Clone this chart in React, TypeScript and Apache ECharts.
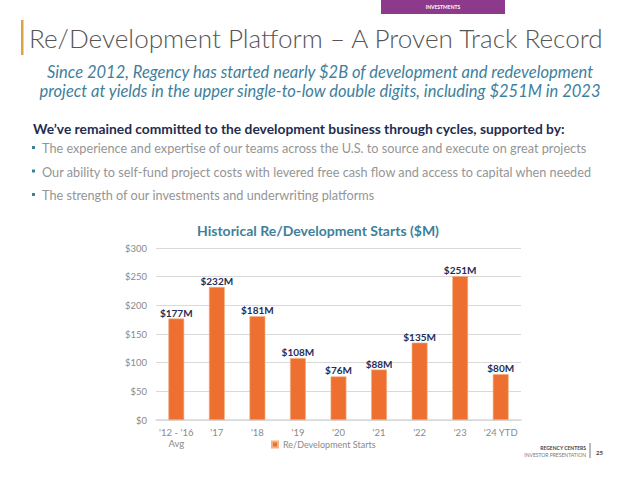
import React, { useEffect, useRef } from "react";
import * as echarts from "echarts";

const categories = ["'12 - '16\nAvg", "'17", "'18", "'19", "'20", "'21", "'22", "'23", "'24 YTD"];
const starts = [177, 232, 181, 108, 76, 88, 135, 251, 80];
const yTicks = { min: 0, max: 300, interval: 50 };
const seriesName = "Re/Development Starts";
const titleText = "Re/Development Platform \u2013 A Proven Track Record";
const subtitleLines = [
  "Since 2012, Regency has started nearly $2B of development and redevelopment",
  "project at yields in the upper single-to-low double digits, including $251M in 2023",
];
const headingText = "We\u2019ve remained committed to the development business through cycles, supported by:";
const bullets = [
  "The experience and expertise of our teams across the U.S. to source and execute on great projects",
  "Our ability to self-fund project costs with levered free cash flow and access to capital when needed",
  "The strength of our investments and underwriting platforms",
];
const chartTitle = "Historical Re/Development Starts ($M)";

const FONT = "Lato, 'Open Sans', sans-serif";

export default function App() {
  const ref = useRef<HTMLDivElement>(null);
  useEffect(() => {
    if (!ref.current) return;
    const chart = echarts.init(ref.current, null, { renderer: "svg" });
    const graphics: any[] = [
      { type: "rect", shape: { x: 381, y: 0, width: 124, height: 14 }, style: { fill: "#8e3a8c" } },
      { type: "text", x: 443, y: 7, style: { text: "INVESTMENTS", fill: "#fff", font: `bold 5px ${FONT}`, align: "center", verticalAlign: "middle" } },
      { type: "rect", shape: { x: 21, y: 20, width: 2.5, height: 35 }, style: { fill: "#d9a441" } },
      { type: "text", x: 29, y: 38, style: { text: titleText, fill: "#555555", font: `300 26.1px ${FONT}`, verticalAlign: "middle" } },
      ...subtitleLines.map((t, i) => ({
        type: "text", x: 320, y: 72 + i * 19,
        style: { text: t, fill: "#3e7f9c", font: `italic 16.5px ${FONT}`, align: "center", verticalAlign: "middle" },
      })),
      { type: "text", x: 33, y: 128, style: { text: headingText, fill: "#1f2d50", font: `bold 13.8px ${FONT}`, verticalAlign: "middle" } },
      ...bullets.flatMap((t, i) => [
        { type: "rect", shape: { x: 32, y: 146 + i * 23.5, width: 3, height: 3 }, style: { fill: "#3e7f9c" } },
        { type: "text", x: 42, y: 148 + i * 23.5, style: { text: t, fill: "#959595", font: `12.7px ${FONT}`, verticalAlign: "middle" } },
      ]),
      { type: "text", x: 586, y: 448, style: { text: "REGENCY CENTERS", fill: "#444", font: `bold 5px ${FONT}`, align: "right", verticalAlign: "middle" } },
      { type: "text", x: 586, y: 455, style: { text: "INVESTOR PRESENTATION", fill: "#777", font: `5px ${FONT}`, align: "right", verticalAlign: "middle" } },
      { type: "line", shape: { x1: 590, y1: 443, x2: 590, y2: 458 }, style: { stroke: "#555", lineWidth: 0.8 } },
      { type: "text", x: 596, y: 452, style: { text: "25", fill: "#444", font: `bold 6px ${FONT}`, verticalAlign: "middle" } },
    ];
    chart.setOption({
      animation: false,
      title: {
        text: chartTitle, left: 313, top: 218, textAlign: "center",
        textStyle: { color: "#3e7f9c", fontFamily: FONT, fontWeight: "bold", fontSize: 14 },
      },
      legend: {
        data: [seriesName], bottom: 25, left: 266, itemWidth: 6, itemHeight: 6, icon: "rect", itemGap: 4,
        textStyle: { color: "#8a8a8a", fontFamily: FONT, fontSize: 9 },
      },
      grid: { left: 156, right: 119, top: 248, bottom: 59, containLabel: false },
      xAxis: {
        type: "category", data: categories,
        axisLine: { lineStyle: { color: "#d9d9d9", width: 1.5 } }, axisTick: { show: false },
        axisLabel: { color: "#8a8a8a", fontFamily: FONT, fontSize: 9.5, margin: 7, lineHeight: 11, interval: 0 },
      },
      yAxis: {
        type: "value", ...yTicks,
        axisLine: { show: false }, axisTick: { show: false },
        splitLine: { lineStyle: { color: "#d9d9d9", width: 1.2 } },
        axisLabel: { color: "#8a8a8a", fontFamily: FONT, fontSize: 9.5, formatter: (v: number) => `$${v}`, margin: 9 },
      },
      series: [{
        name: seriesName, type: "bar", data: starts, barWidth: "39%",
        itemStyle: { color: "#ed7030", borderColor: "#f4b183", borderWidth: 0.6 },
        label: {
          show: true, position: "top", distance: 1, formatter: (p: any) => `$${p.value}M`,
          color: "#1f2d5a", fontFamily: FONT, fontWeight: "bold", fontSize: 10,
        },
      }],
      graphic: graphics,
    });
    return () => chart.dispose();
  }, []);
  return <div ref={ref} style={{ position: "fixed", left: 0, top: 0, width: 640, height: 479, background: "#fff" }} />;
}
